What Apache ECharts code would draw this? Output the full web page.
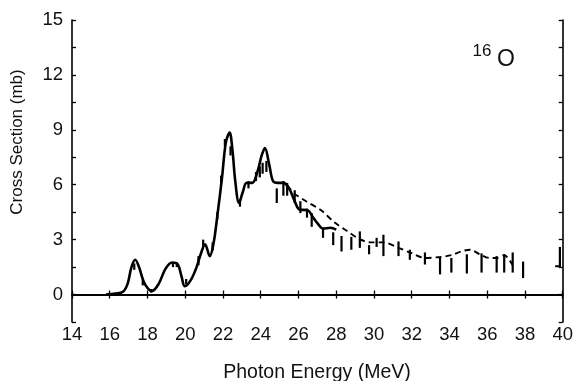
<!DOCTYPE html>
<html><head><meta charset="utf-8">
<script src="https://cdn.jsdelivr.net/npm/echarts@6/dist/echarts.min.js"></script>
<style>html,body{margin:0;padding:0;background:#fff}#c{width:576px;height:381px}</style>
</head><body><div id="c"></div>
<script>
// Solid curve (calculation through data)
var solidE = [15.8,16.3,16.7,16.95,17.15,17.35,17.55,17.8,18.05,18.25,18.6,18.95,19.3,19.6,19.8,19.98,20.3,20.6,20.85,21.05,21.3,21.5,21.7,21.95,22.15,22.35,22.5,22.65,22.85,23.05,23.25,23.55,23.85,24.05,24.22,24.45,24.65,24.9,25.2,25.5,25.8,26.05,26.5,26.75,27.0,27.3,27.7,28.0];
var solidS = [0.0,0.05,0.15,0.6,1.5,1.9,1.5,0.7,0.3,0.2,0.6,1.4,1.75,1.65,1.0,0.45,0.8,1.5,2.3,2.75,2.1,2.8,4.3,6.4,8.3,8.85,7.9,6.2,5.0,5.6,6.1,6.1,6.8,7.6,8.0,7.1,6.2,6.1,6.1,5.8,5.1,4.65,4.6,4.25,3.9,3.6,3.65,3.55];
// Dashed curve (null = gap)
var dashE = [25.4,25.8,26.4,27.2,27.9,28.6,29.2,29.8,30.5,31.3,31.9,32.7,33.5,34.1,34.6,35.1,35.6,36.1,36.5,36.9,37.35,38.5,39.6,39.85];
var dashS = [5.95,5.5,5.1,4.6,3.95,3.45,3.05,2.85,2.85,2.55,2.3,2.0,2.05,2.15,2.35,2.45,2.2,2.0,2.0,2.15,1.6,null,1.55,1.55];
// Error bars (energy, low, high)
var errE  = [17.3,17.75,18.2,19.35,19.55,20.05,20.7,20.95,21.45,21.7,21.9,22.1,22.4,22.9,23.35,23.75,23.95,24.1,24.3,24.85,25.2,25.4,25.8,26.1,26.45,26.7,27.3,27.84,28.28,28.8,29.25,29.74,30.14,30.5,31.3,31.9,32.7,33.5,34.1,34.92,35.7,36.5,36.9,37.35,37.9,39.85];
var errLo = [1.35,0.5,0.1,1.5,1.5,0.55,1.6,2.6,2.4,4.1,6.1,8.1,7.6,4.8,5.8,6.2,6.4,6.6,6.7,5.0,5.4,5.4,5.0,4.45,4.2,3.7,3.1,2.7,2.35,2.45,2.55,2.2,2.6,2.1,2.1,1.9,1.64,1.1,1.2,1.15,1.2,1.2,1.2,1.2,0.9,1.5];
var errHi = [1.7,0.8,0.3,1.75,1.75,0.85,2.1,3.0,2.85,4.5,6.5,8.5,8.1,5.2,6.2,6.7,7.0,7.2,7.3,5.8,6.2,6.1,5.7,5.1,4.7,4.45,3.65,3.4,3.2,3.15,3.45,2.7,3.1,3.27,2.9,2.45,2.3,2.0,2.0,2.2,2.25,2.1,2.2,2.3,1.8,2.6];
// Axis ticks
var xMin = 14, xMax = 40, xStep = 2;
var yMin = -1.5, yMax = 15, yStep = 1.5, yLabelStep = 3;

var FONT = 'Liberation Sans';
var solid = solidE.map(function(e,i){return [e, solidS[i]];});
var dashed = dashE.map(function(e,i){return [e, dashS[i]];});
var errs = errE.map(function(e,i){return [e, errLo[i], errHi[i]];});

var chart = echarts.init(document.getElementById('c'));
var axLine = {lineStyle:{color:'#000', width:1.6}};
var tick = {show:true, inside:true, length:4, lineStyle:{color:'#000', width:1.3}};
chart.setOption({
  animation:false,
  backgroundColor:'#fff',
  grid:{left:72, top:20, width:491, height:302},
  xAxis:[
    {type:'value', min:xMin, max:xMax, interval:xStep, position:'bottom', axisLine:axLine, axisTick:tick, splitLine:{show:false},
     axisLabel:{fontFamily:FONT, fontSize:18.5, color:'#111', margin:3}},
    {type:'value', min:xMin, max:xMax, interval:xStep, position:'top', axisLine:axLine, axisTick:tick, splitLine:{show:false}, axisLabel:{show:false}}
  ],
  yAxis:[
    {type:'value', min:yMin, max:yMax, interval:yStep, position:'left', axisLine:axLine, axisTick:tick, splitLine:{show:false},
     axisLabel:{fontFamily:FONT, fontSize:18.5, color:'#111', margin:9,
       formatter:function(v){ var r = Math.round(v*100)/100; return (Math.abs(r % yLabelStep) < 1e-6) ? String(r) : ''; }}},
    {type:'value', min:yMin, max:yMax, interval:yStep, position:'right', axisLine:axLine, axisTick:tick, splitLine:{show:false}, axisLabel:{show:false}}
  ],
  series:[
    {type:'line', data:solid, smooth:0.35, symbol:'none', lineStyle:{color:'#000', width:2.6},
     markLine:{silent:true, symbol:'none', label:{show:false}, lineStyle:{color:'#000', width:1.6, type:'solid'}, data:[{yAxis:0}]}},
    {type:'line', data:dashed, smooth:0.3, symbol:'none', connectNulls:false, lineStyle:{color:'#000', width:1.9, type:[6,4]}},
    {type:'custom', data:errs, renderItem:function(params, api){
       var a = api.coord([api.value(0), api.value(1)]);
       var b = api.coord([api.value(0), api.value(2)]);
       return {type:'line', shape:{x1:a[0], y1:a[1], x2:b[0], y2:b[1]}, style:{stroke:'#000', lineWidth:2.2}};
     }}
  ],
  graphic:[
    {type:'text', style:{text:'Photon Energy (MeV)', x:317, y:373, textAlign:'center', textVerticalAlign:'middle', fontFamily:FONT, fontSize:19.5, fill:'#111'}},
    {type:'text', rotation:Math.PI/2, x:17, y:142, style:{text:'Cross Section (mb)', x:0, y:0, textAlign:'center', textVerticalAlign:'middle', fontFamily:FONT, fontSize:17, fill:'#111'}},
    {type:'text', style:{text:'16', x:482, y:51, textAlign:'center', textVerticalAlign:'middle', fontFamily:FONT, fontSize:17, fill:'#111'}},
    {type:'text', style:{text:'O', x:506, y:60, textAlign:'center', textVerticalAlign:'middle', fontFamily:FONT, fontSize:23, fill:'#111'}}
  ]
});
</script></body></html>
